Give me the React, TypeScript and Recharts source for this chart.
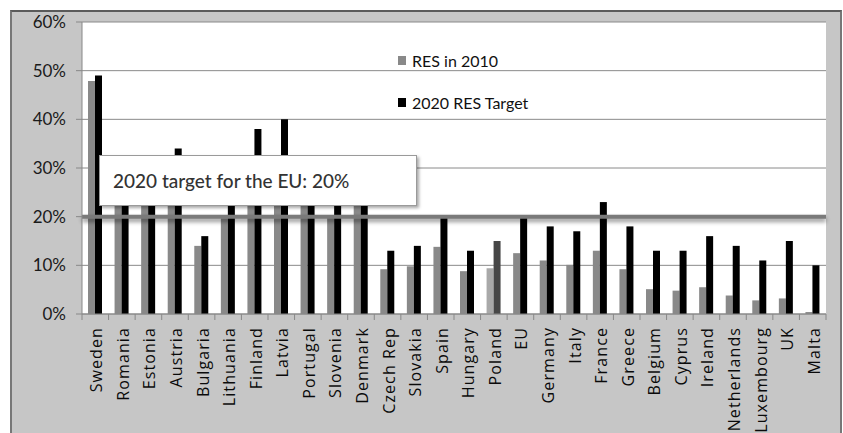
import { BarChart, Bar, XAxis, YAxis, CartesianGrid, ReferenceLine, Legend, Cell } from 'recharts'

// RES share of gross final energy consumption, %
const countries = [
  'Sweden', 'Romania', 'Estonia', 'Austria', 'Bulgaria', 'Lithuania', 'Finland',
  'Latvia', 'Portugal', 'Slovenia', 'Denmark', 'Czech Rep', 'Slovakia', 'Spain',
  'Hungary', 'Poland', 'EU', 'Germany', 'Italy', 'France', 'Greece', 'Belgium',
  'Cyprus', 'Ireland', 'Netherlands', 'Luxembourg', 'UK', 'Malta',
]
const res2010 = [
  47.9, 23.4, 24.6, 30.1, 14.0, 19.7, 32.2, 32.5, 24.6, 19.8, 22.2, 9.2, 9.8, 13.8,
  8.8, 9.4, 12.5, 11.0, 10.1, 13.0, 9.2, 5.1, 4.8, 5.5, 3.8, 2.8, 3.2, 0.4,
]
const target2020 = [
  49, 24, 25, 34, 16, 23, 38, 40, 31, 25, 30, 13, 14, 20,
  13, 15, 20, 18, 17, 23, 18, 13, 13, 16, 14, 11, 15, 10,
]
const yTicks = [0, 10, 20, 30, 40, 50, 60]
const euTarget = 20

const series = [
  { key: 'res2010', name: 'RES in 2010', color: '#898989' },
  { key: 'target2020', name: '2020 RES Target', color: '#000000' },
]

const data = countries.map((c, i) => ({ country: c, res2010: res2010[i], target2020: target2020[i] }))

const W = 843
const H = 433
const M = { top: 22, right: 17, left: 10, bottom: 0 }
const Y_W = 72
const BAND = (W - M.left - M.right - Y_W) / countries.length
const FONT = 'Lato, "Open Sans", sans-serif'

function CountryTick(props: any) {
  const { x, y, payload, index } = props
  const last = index === countries.length - 1
  return (
    <g>
      <line x1={x - BAND / 2} y1={y} x2={x - BAND / 2} y2={y + 6} stroke="#888" />
      {last && <line x1={x + BAND / 2} y1={y} x2={x + BAND / 2} y2={y + 6} stroke="#888" />}
      <text
        x={0}
        y={0}
        transform={`translate(${x + 1},${y + 13}) rotate(-90)`}
        textAnchor="end"
        dominantBaseline="central"
        fontFamily='"Open Sans", sans-serif'
        fontSize={16}
        letterSpacing={1.1}
        fill="#0a0a0a"
      >
        {payload.value}
      </text>
    </g>
  )
}

function LegendBox() {
  return (
    <div style={{ fontFamily: FONT, fontSize: 16, color: '#111' }}>
      {series.map((s, i) => (
        <div key={s.key} style={{ display: 'flex', alignItems: 'center', height: 20, marginTop: i ? 22 : 0 }}>
          <span style={{ width: 8, height: 9, background: s.color, marginRight: 6, display: 'inline-block' }} />
          {s.name}
        </div>
      ))}
    </div>
  )
}

export default function App() {
  return (
    <div style={{ position: 'absolute', left: 0, top: 0, width: W, height: H, background: '#fff', overflow: 'hidden' }}>
      <div style={{
        position: 'absolute', left: 10, top: 10, width: 828, height: 430,
        background: '#c6c6c6', borderTop: '2px solid #5a5a5a', borderLeft: '2px solid #777', borderRight: '2px solid #777',
      }} />
      <div style={{ position: 'absolute', left: 0, top: 0 }}>
        <BarChart width={W} height={H} data={data} margin={M} barGap={0} barSize={7}>
          <CartesianGrid vertical={false} stroke="#8a8a8a" fill="#ffffff" />
          <XAxis
            dataKey="country"
            interval={0}
            height={H - 314 - M.bottom}
            tickLine={false}
            tickSize={0}
            tickMargin={0}
            axisLine={{ stroke: '#888' }}
            tick={<CountryTick />}
          />
          <YAxis
            width={Y_W}
            domain={[0, 60]}
            ticks={yTicks}
            interval={0}
            tickFormatter={(v: number) => `${v}%`}
            tick={{ fontFamily: FONT, fontSize: 17, fill: '#1a1a1a' }}
            tickSize={6}
            tickMargin={10}
            axisLine={{ stroke: '#888' }}
            tickLine={{ stroke: '#888' }}
          />
          <Legend
            layout="vertical"
            verticalAlign="middle"
            align="center"
            wrapperStyle={{ left: 398, top: 50, width: 200 }}
            content={() => <LegendBox />}
          />
          <Bar dataKey="res2010" name={series[0].name} fill={series[0].color} isAnimationActive={false}>
            {data.map((d) => (
              <Cell key={d.country} fill={d.country === 'Poland' ? '#a9a9a9' : series[0].color} />
            ))}
          </Bar>
          <Bar dataKey="target2020" name={series[1].name} fill={series[1].color} isAnimationActive={false}>
            {data.map((d) => (
              <Cell key={d.country} fill={d.country === 'Poland' ? '#474747' : series[1].color} />
            ))}
          </Bar>
          <ReferenceLine
            y={euTarget}
            stroke="#7a7a7a"
            strokeWidth={4}
            style={{ filter: 'drop-shadow(0px 3px 2px rgba(0,0,0,0.45))' }}
          />
        </BarChart>
      </div>
      <div style={{
        position: 'absolute', left: 99, top: 155, width: 318, height: 51,
        background: '#fff', border: '1px solid #9a9a9a', boxShadow: '2px 2px 3px rgba(0,0,0,0.35)',
        fontFamily: FONT, fontSize: 19, fontWeight: 500, color: '#333', display: 'flex', alignItems: 'center',
        paddingLeft: 13, boxSizing: 'border-box',
      }}>
        2020 target for the EU: 20%
      </div>
    </div>
  )
}
